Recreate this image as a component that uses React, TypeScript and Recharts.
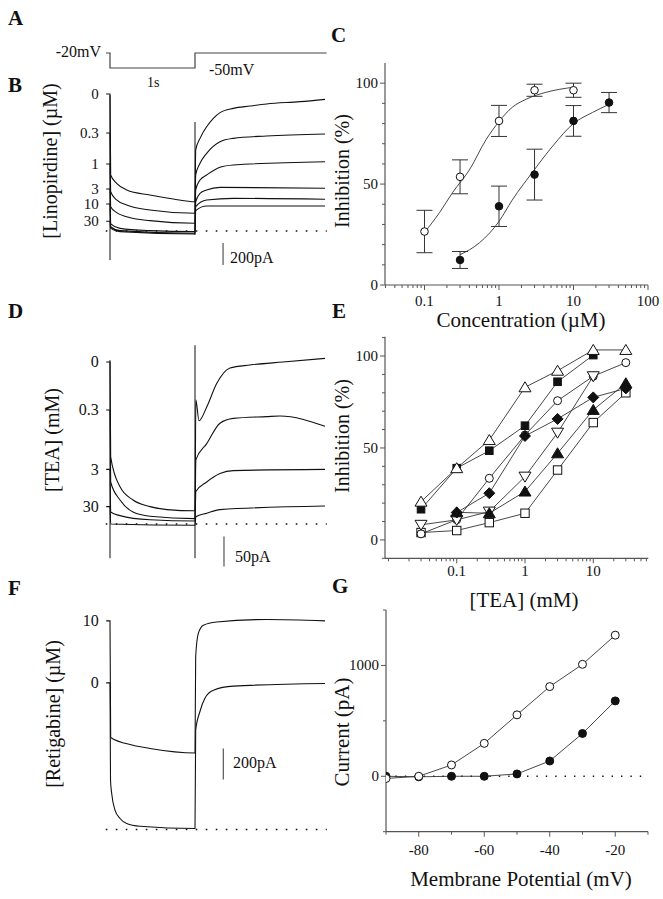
import React from 'react'
import { LineChart, Line, XAxis, YAxis, ReferenceLine, ComposedChart, Scatter, ErrorBar } from 'recharts'

const FONT = '"Liberation Serif", "Times New Roman", serif'
const INK = '#111'
const AXIS = '#555'

// A: voltage protocol (ms, mV)
const protocolT = [-50, 0, 0, 1000, 1000, 2550]
const protocolMV = [-20, -20, -50, -50, -20, -20]

// B: linopirdine traces, [ms, pA]
const linoLabels = ['0', '0.3', '1', '3', '10', '30']
const linoHold = [1245, 891, 609, 382, 245, 88]
const lino0 = [[-45, 1245], [0, 1245], [8, 509], [78, 433], [196, 373], [470, 327], [745, 291], [1000, 266], [1008, 736], [1059, 842], [1137, 948], [1216, 1024], [1294, 1076], [1451, 1115], [1647, 1136], [1843, 1155], [2235, 1176], [2530, 1197]]
const lino03 = [[-45, 891], [0, 891], [8, 357], [78, 282], [196, 236], [470, 191], [1000, 161], [1008, 509], [1059, 615], [1137, 706], [1294, 812], [1451, 842], [1843, 864], [2530, 882]]
const lino1 = [[-45, 609], [0, 609], [8, 221], [78, 167], [196, 130], [470, 94], [1000, 70], [1008, 373], [1059, 464], [1137, 509], [1294, 579], [1451, 600], [2530, 630]]
const lino3 = [[-45, 382], [0, 382], [8, 64], [118, 24], [470, 3], [1000, -6], [1008, 266], [1059, 342], [1137, 373], [1294, 397], [2530, 388]]
const lino10 = [[-45, 245], [0, 245], [8, 39], [118, 3], [1000, -21], [1008, 221], [1137, 282], [1451, 297], [2530, 288]]
const lino30 = [[-45, 88], [0, 88], [8, 24], [118, -6], [1000, -27], [1008, 185], [1137, 227], [2530, 227]]
const linoTransient = [[0, 1235], [0, -265], [500, null], [1000, 991], [1000, -35]]
const linoBar = [1330, -110, -310]

// D: TEA traces, [ms, pA]
const teaLabels = ['0', '0.3', '3', '30']
const teaHold = [270, 190, 91, 29]
const tea0 = [[-45, 270], [0, 270], [8, 112], [118, 62], [271, 40], [471, 29], [671, 24], [1000, 22], [1010, 207], [1047, 172], [1138, 195], [1255, 234], [1412, 260], [1647, 265], [2035, 270], [2530, 276]]
const tea03 = [[-45, 190], [0, 190], [8, 70], [118, 40], [271, 20], [471, 13], [1000, 9], [1010, 107], [1138, 134], [1294, 168], [1451, 176], [1843, 179], [2000, 180], [2530, 163]]
const tea3 = [[-45, 91], [0, 91], [8, 20], [118, 14], [471, 7], [1000, 5], [1010, 54], [1138, 70], [1294, 84], [1451, 89], [2530, 91]]
const tea30 = [[-45, 29], [0, 29], [8, 0], [1000, -2], [1010, 12], [1138, 18], [1294, 24], [2530, 30]]
const teaTransient = [[0, 273], [0, -57], [500, null], [1000, 298], [1000, -57]]
const teaBar = [1341, -21, -71]

// F: retigabine traces, [ms, pA]
const retiLabels = ['10', '0']
const retiHold = [1346, 946]
const reti10 = [[-45, 1346], [0, 1346], [8, 594], [271, 544], [471, 523], [1000, 494], [1008, 1114], [1039, 1265], [1098, 1318], [1255, 1339], [1843, 1355], [2530, 1346]]
const reti0 = [[-45, 946], [0, 946], [6, 318], [20, 232], [59, 125], [118, 71], [196, 39], [353, 21], [1000, 6], [1008, 640], [1059, 763], [1118, 849], [1216, 899], [1451, 925], [2530, 942]]
const retiBar = [1333, 523, 323]

// C: concentration-inhibition
const cOpenConc = [0.1, 0.3, 1, 3, 10]
const cOpenInh = [26.5, 53.6, 81.3, 96.5, 96.5]
const cOpenErr = [10.5, 8.4, 7.7, 3, 3.5]
const cFilledConc = [0.3, 1, 3, 10, 30]
const cFilledInh = [12.4, 39, 54.7, 81.3, 90.4]
const cFilledErr = [4.2, 10, 12.6, 7.6, 5]
const cOpenFitConc = [0.1, 0.16, 0.24, 0.4, 0.67, 1, 1.5, 2.3, 4.3, 10]
const cOpenFitInh = [26, 36, 46, 57, 72, 81, 88, 92, 95.5, 98]
const cFilledFitConc = [0.3, 0.55, 1, 1.5, 2.9, 5.3, 10, 18, 30]
const cFilledFitInh = [15, 21, 31.5, 42, 56.5, 69, 80, 85.5, 89.5]

// E: TEA inhibition, seven cells
const teaConc = [0.03, 0.1, 0.3, 1, 3, 10, 30]
const inhOpenSquare = [4.0, 5.1, 9.4, 14.5, 38, 63.8, 80]
const inhOpenCircle = [3.3, 11, 33.5, 57, 75.7, 89, 96.4]
const inhOpenTriDown = [8.2, 10.9, 15.4, 34.4, 58.3, 89, null]
const inhFilledTriUp = [null, 15, 14.5, 26.3, 47.1, 70.7, 85.2]
const inhFilledDiamond = [null, 14.9, 25.4, 56.5, 65.8, 77.5, 82.4]
const inhFilledSquare = [16.7, 39, 48.5, 62.1, 86, 100.5, null]
const inhOpenTriUp = [20.8, 39, 54.3, 83, 92, 103.3, 103.3]

// G: I-V
const ivMV = [-90, -80, -70, -60, -50, -40, -30, -20]
const ivOpen = [-20, 0, 102, 297, 554, 809, 1010, 1273]
const ivFilled = [0, -5, 0, 0, 21, 138, 386, 680]

const logTicks = (from: number, to: number) => {
  const out: number[] = []
  for (let d = -2; d <= 2; d++) {
    for (let m = 1; m <= 9; m++) {
      const v = +(m * Math.pow(10, d)).toPrecision(3)
      if (v >= from && v <= to) out.push(v)
    }
  }
  return out
}

const pts = (a: (number | null)[][]) => a.map(([t, i]) => ({ t, i }))
const series = (xs: number[], ys: (number | null)[]) =>
  xs.map((x, k) => ({ x, y: ys[k] })).filter(p => p.y !== null)

const levelTick = (levels: number[], labels: string[], size: number) => (p: any) => {
  const k = levels.indexOf(p.payload.value)
  return (
    <text x={p.x - 7} y={p.y} dy={size * 0.34} textAnchor="end" fontSize={size} fontFamily={FONT} fill={INK}>
      {labels[k]}
    </text>
  )
}

const xTick = (majors: number[], dy: number) => (p: any) => {
  const v = p.payload.value
  const major = majors.includes(v)
  return (
    <g>
      <line x1={p.x} y1={p.y} x2={p.x} y2={p.y + (major ? 5 : 3)} stroke={AXIS} />
      {major && (
        <text x={p.x} y={p.y + dy} textAnchor="middle" fontSize={15} fontFamily={FONT} fill={INK}>
          {String(v)}
        </text>
      )}
    </g>
  )
}

const yTick = (majors: number[]) => (p: any) => {
  const v = p.payload.value
  const major = majors.includes(v)
  return (
    <g>
      <line x1={p.x - (major ? 5 : 3)} y1={p.y} x2={p.x} y2={p.y} stroke={AXIS} />
      {major && (
        <text x={p.x - 7} y={p.y + 5} textAnchor="end" fontSize={15} fontFamily={FONT} fill={INK}>
          {String(v)}
        </text>
      )}
    </g>
  )
}

function Marker({ kind, cx, cy }: { kind: string; cx: number; cy: number }) {
  const k = kind.toLowerCase()
  const filled = k.startsWith('f')
  const fill = filled ? INK : '#fff'
  const common = { fill, stroke: INK, strokeWidth: 1 }
  if (k.endsWith('circle')) return <circle cx={cx} cy={cy} r={4} {...common} />
  if (k.endsWith('square'))
    return filled
      ? <rect x={cx - 3.8} y={cy - 3.8} width={7.6} height={7.6} {...common} />
      : <rect x={cx - 4.2} y={cy - 4.2} width={8.4} height={8.4} {...common} />
  if (k.endsWith('triup'))
    return <polygon points={`${cx},${cy - 5.5} ${cx + 6},${cy + 4.5} ${cx - 6},${cy + 4.5}`} {...common} />
  if (k.endsWith('tridown'))
    return <polygon points={`${cx - 6},${cy - 4.5} ${cx + 6},${cy - 4.5} ${cx},${cy + 5.5}`} {...common} />
  return <polygon points={`${cx},${cy - 5.5} ${cx + 5.5},${cy} ${cx},${cy + 5.5} ${cx - 5.5},${cy}`} {...common} />
}

const dotOf = (kind: string) => (p: any) =>
  p.cx == null || p.cy == null ? <g key={p.index} /> : <Marker key={p.index} kind={kind} cx={p.cx} cy={p.cy} />

const TRACE_W = 326.75
const TRACE_LEFT = 105.75
const PAD = 20

function TraceChart(props: {
  top: number
  height: number
  domain: [number, number]
  traces: (number | null)[][][]
  transient?: (number | null)[][]
  hold: number[]
  labels: string[]
  labelSize: number
  bar: number[]
}) {
  const { top, height, domain, traces, transient, hold, labels, labelSize, bar } = props
  return (
    <div style={{ position: 'absolute', left: 0, top: top - PAD, width: TRACE_W, height: height + 2 * PAD }}>
      <LineChart width={TRACE_W} height={height + 2 * PAD} margin={{ top: PAD, right: 0, bottom: PAD, left: 0 }}>
        <XAxis type="number" dataKey="t" domain={[-50, 2550]} allowDataOverflow hide />
        <YAxis
          type="number"
          domain={domain}
          allowDataOverflow
          width={TRACE_LEFT}
          axisLine={false}
          tickLine={false}
          ticks={hold}
          interval={0}
          tickSize={0}
          tickMargin={0}
          tick={levelTick(hold, labels, labelSize)}
        />
        <ReferenceLine y={0} stroke={INK} strokeWidth={1.6} strokeDasharray="1.6 8.4" />
        {traces.map((tr, k) => (
          <Line key={k} data={pts(tr)} dataKey="i" type="monotone" stroke={INK} strokeWidth={1.1} dot={false} isAnimationActive={false} />
        ))}
        {transient && (
          <Line data={pts(transient)} dataKey="i" type="linear" stroke={INK} strokeWidth={1} dot={false} isAnimationActive={false} />
        )}
        <ReferenceLine segment={[{ x: bar[0], y: bar[1] }, { x: bar[0], y: bar[2] }]} stroke={AXIS} strokeWidth={1.2} />
      </LineChart>
    </div>
  )
}

const T = (p: any) => <text fontFamily={FONT} fill={INK} {...p} />
const VT = ({ x, y, children, size }: any) => (
  <text transform={`translate(${x},${y}) rotate(-90)`} textAnchor="middle" fontFamily={FONT} fontSize={size} fill={INK}>
    {children}
  </text>
)

export default function App() {
  const protocol = protocolT.map((t, k) => ({ t, v: protocolMV[k] }))
  const cOpen = cOpenConc.map((x, k) => ({ x, y: cOpenInh[k], e: cOpenErr[k] }))
  const cFilled = cFilledConc.map((x, k) => ({ x, y: cFilledInh[k], e: cFilledErr[k] }))
  const cTicks = logTicks(0.0295, 100)
  const eTicks = logTicks(0.0089, 64)
  const eSeries: [string, (number | null)[]][] = [
    ['oSquare', inhOpenSquare],
    ['oCircle', inhOpenCircle],
    ['oTriDown', inhOpenTriDown],
    ['fTriUp', inhFilledTriUp],
    ['fDiamond', inhFilledDiamond],
    ['fSquare', inhFilledSquare],
    ['oTriUp', inhOpenTriUp],
  ]
  const axisLine = { stroke: AXIS, strokeWidth: 1.2 }

  return (
    <div style={{ position: 'relative', width: 663, height: 899, background: '#fff', overflow: 'hidden' }}>
      <style>{'body{margin:0}'}</style>

      {/* A: protocol */}
      <div style={{ position: 'absolute', left: 0, top: 48, width: TRACE_W, height: 25 }}>
        <LineChart width={TRACE_W} height={25} data={protocol} margin={{ top: 0, right: 0, bottom: 0, left: TRACE_LEFT }}>
          <XAxis type="number" dataKey="t" domain={[-50, 2550]} allowDataOverflow hide />
          <YAxis type="number" domain={[-60, -10]} allowDataOverflow hide />
          <Line dataKey="v" type="linear" stroke="#444" strokeWidth={1.2} dot={false} isAnimationActive={false} />
        </LineChart>
      </div>

      <TraceChart top={88} height={181.5} domain={[-350, 1300]} traces={[lino0, lino03, lino1, lino3, lino10, lino30]} transient={linoTransient} hold={linoHold} labels={linoLabels} labelSize={15} bar={linoBar} />
      <TraceChart top={332} height={240} domain={[-80, 320]} traces={[tea0, tea03, tea3, tea30]} transient={teaTransient} hold={teaHold} labels={teaLabels} labelSize={16} bar={teaBar} />
      <TraceChart top={596.8} height={271.25} domain={[-250, 1500]} traces={[reti10, reti0]} hold={retiHold} labels={retiLabels} labelSize={16} bar={retiBar} />

      {/* C */}
      <div style={{ position: 'absolute', left: 340, top: 50 }}>
        <ComposedChart width={320} height={270} margin={{ top: 13, right: 12, bottom: 0, left: 0 }}>
          <XAxis type="number" dataKey="x" scale="log" domain={[0.0295, 100]} allowDataOverflow ticks={cTicks} interval={0} tickSize={0} tickMargin={0} tickLine={false} tick={xTick([0.1, 1, 10, 100], 21)} axisLine={axisLine} height={35} />
          <YAxis type="number" dataKey="y" domain={[0, 110]} allowDataOverflow ticks={[0, 10, 20, 30, 40, 50, 60, 70, 80, 90, 100]} interval={0} tickSize={0} tickMargin={0} tickLine={false} tick={yTick([0, 50, 100])} axisLine={axisLine} width={45} />
          <Line data={series(cOpenFitConc, cOpenFitInh)} dataKey="y" type="monotone" stroke="#333" strokeWidth={0.9} dot={false} isAnimationActive={false} />
          <Line data={series(cFilledFitConc, cFilledFitInh)} dataKey="y" type="monotone" stroke="#333" strokeWidth={0.9} dot={false} isAnimationActive={false} />
          <Scatter data={cOpen} dataKey="y" isAnimationActive={false} shape={(p: any) => <circle cx={p.cx} cy={p.cy} r={3.8} fill="#fff" stroke={INK} />}>
            <ErrorBar dataKey="e" direction="y" width={8} stroke="#333" strokeWidth={1} />
          </Scatter>
          <Scatter data={cFilled} dataKey="y" isAnimationActive={false} shape={(p: any) => <circle cx={p.cx} cy={p.cy} r={3.8} fill={INK} stroke={INK} />}>
            <ErrorBar dataKey="e" direction="y" width={8} stroke="#333" strokeWidth={1} />
          </Scatter>
        </ComposedChart>
      </div>

      {/* E */}
      <div style={{ position: 'absolute', left: 340, top: 320 }}>
        <LineChart width={320} height={273.3} margin={{ top: 16.7, right: 11.7, bottom: 0, left: 0 }}>
          <XAxis type="number" dataKey="x" scale="log" domain={[0.0089, 64]} allowDataOverflow ticks={eTicks} interval={0} tickSize={0} tickMargin={0} tickLine={false} tick={xTick([0.1, 1, 10], 18)} axisLine={axisLine} height={35} />
          <YAxis type="number" domain={[-10, 110.5]} allowDataOverflow ticks={[-10, 0, 10, 20, 30, 40, 50, 60, 70, 80, 90, 100, 110]} interval={0} tickSize={0} tickMargin={0} tickLine={false} tick={yTick([0, 50, 100])} axisLine={axisLine} width={45} />
          {eSeries.map(([kind, ys]) => (
            <Line key={kind} data={series(teaConc, ys)} dataKey="y" type="linear" stroke="#333" strokeWidth={0.9} dot={dotOf(kind)} isAnimationActive={false} />
          ))}
        </LineChart>
      </div>

      {/* G */}
      <div style={{ position: 'absolute', left: 340, top: 600 }}>
        <LineChart width={320} height={266.7} margin={{ top: 10, right: 12, bottom: 0, left: 0 }}>
          <XAxis type="number" dataKey="x" domain={[-90, -10]} allowDataOverflow ticks={[-90, -80, -70, -60, -50, -40, -30, -20, -10]} interval={0} tickSize={0} tickMargin={0} tickLine={false} tick={xTick([-80, -60, -40, -20], 23)} axisLine={axisLine} height={35} />
          <YAxis type="number" domain={[-500, 1500]} allowDataOverflow ticks={[-500, 0, 500, 1000, 1500]} interval={0} tickSize={0} tickMargin={0} tickLine={false} tick={yTick([0, 1000])} axisLine={axisLine} width={46} />
          <ReferenceLine y={0} stroke={INK} strokeWidth={1.4} strokeDasharray="1.4 8" />
          <Line data={series(ivMV, ivFilled)} dataKey="y" type="linear" stroke="#333" strokeWidth={0.9} dot={dotOf('fCircle')} isAnimationActive={false} />
          <Line data={series(ivMV, ivOpen)} dataKey="y" type="linear" stroke="#333" strokeWidth={0.9} dot={dotOf('oCircle')} isAnimationActive={false} />
        </LineChart>
      </div>

      {/* texts */}
      <svg width={663} height={899} style={{ position: 'absolute', left: 0, top: 0, pointerEvents: 'none' }}>
        <T x={8} y={25} fontSize={21} fontWeight="bold">A</T>
        <T x={8} y={92} fontSize={21} fontWeight="bold">B</T>
        <T x={331} y={42} fontSize={21} fontWeight="bold">C</T>
        <T x={8} y={318} fontSize={21} fontWeight="bold">D</T>
        <T x={332} y={318} fontSize={21} fontWeight="bold">E</T>
        <T x={8} y={595} fontSize={21} fontWeight="bold">F</T>
        <T x={332} y={593} fontSize={21} fontWeight="bold">G</T>

        <T x={101} y={57} fontSize={16} textAnchor="end">-20mV</T>
        <T x={147} y={87} fontSize={14}>1s</T>
        <T x={209} y={75} fontSize={16}>-50mV</T>

        <VT x={57} y={161} size={20}>[Linopirdine] (µM)</VT>
        <T x={230} y={263} fontSize={16}>200pA</T>
        <VT x={59} y={440} size={20}>[TEA] (mM)</VT>
        <T x={235} y={562} fontSize={16}>50pA</T>
        <VT x={60} y={714} size={20}>[Retigabine] (µM)</VT>
        <T x={233} y={768} fontSize={16}>200pA</T>

        <VT x={349} y={171} size={20}>Inhibition (%)</VT>
        <T x={521} y={327} fontSize={21} textAnchor="middle">Concentration (µM)</T>
        <VT x={349} y={436} size={20}>Inhibition (%)</VT>
        <T x={524} y={607} fontSize={21} textAnchor="middle">[TEA] (mM)</T>
        <VT x={349} y={732} size={21}>Current (pA)</VT>
        <T x={521} y={886} fontSize={21} textAnchor="middle">Membrane Potential (mV)</T>
      </svg>
    </div>
  )
}
